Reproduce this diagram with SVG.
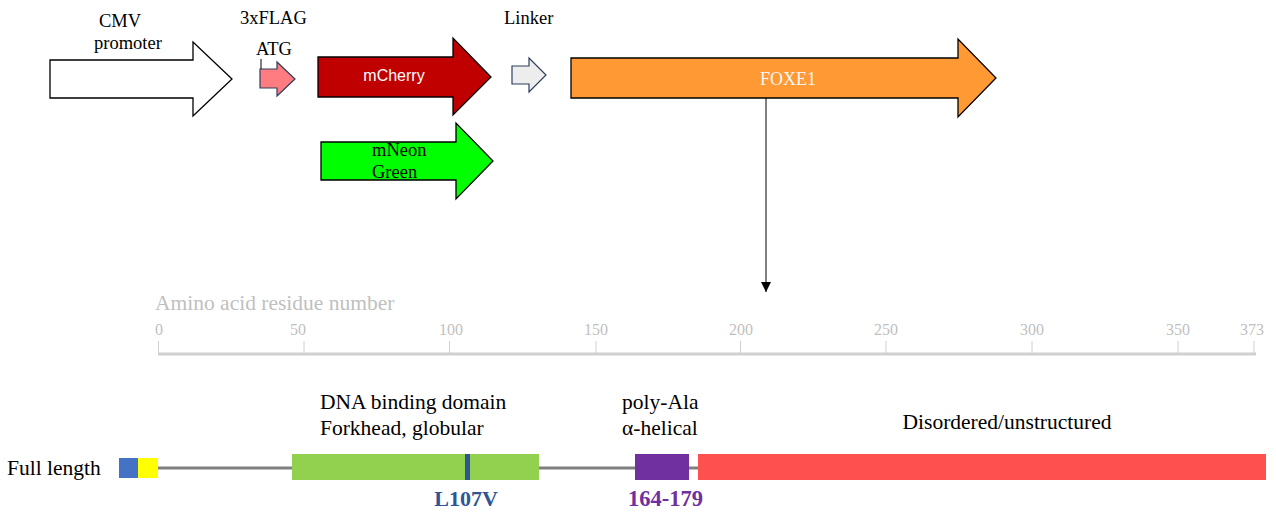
<svg xmlns="http://www.w3.org/2000/svg" width="1276" height="513" viewBox="0 0 1276 513">
<style>
.t{font-family:"Liberation Serif","Times New Roman",serif;fill:#000}
.s{font-family:"Liberation Sans",Arial,sans-serif}
.ax{font-family:"Liberation Serif","Times New Roman",serif;fill:#BFBFBF}
.tick{stroke:#D0D0D0;stroke-width:1}
</style>
<defs>
<marker id="ah" viewBox="0 0 10 10" refX="10" refY="5" markerWidth="10" markerHeight="10" markerUnits="userSpaceOnUse" orient="auto">
<path d="M0,0 L10,5 L0,10 Z" fill="#000"/>
</marker>
</defs>
<rect width="1276" height="513" fill="#fff"/>
<g id="cmv">
<path d="M50,60 H193 V42 L232,79 L193,116 V98 H50 Z" fill="#fff" stroke="#000" stroke-width="1.3"/>
<text class="t" x="99" y="27" font-size="18.5">CMV</text>
<text class="t" x="94" y="49" font-size="18.5">promoter</text>
</g>
<g id="flag">
<path d="M260,69 H277 V62 L295,79 L277,96 V88 H260 Z" fill="#FF7C80" stroke="#2F3F5F" stroke-width="1.2"/>
<line x1="261" y1="59" x2="261" y2="69" stroke="#000" stroke-width="1"/>
<text class="t" x="240" y="24" font-size="18.5">3xFLAG</text>
<text class="t" x="256" y="55" font-size="18.5">ATG</text>
</g>
<g id="mcherry">
<path d="M318,57 H453 V38 L491,77 L453,115 V97 H318 Z" fill="#C00000" stroke="#000" stroke-width="1.3"/>
<text class="s" x="394" y="81" font-size="16" fill="#fff" text-anchor="middle">mCherry</text>
</g>
<g id="mneongreen">
<path d="M321,142 H456 V123 L493,161 L456,199 V180 H321 Z" fill="#00FF00" stroke="#000" stroke-width="1.3"/>
<text class="t" x="372" y="156" font-size="18.5">mNeon</text>
<text class="t" x="372" y="178" font-size="18.5">Green</text>
</g>
<g id="linker">
<path d="M512,66 H529 V58 L546,75 L529,92 V84 H512 Z" fill="#EDEDED" stroke="#2F3F5F" stroke-width="1.2"/>
<text class="t" x="504" y="24" font-size="18.5">Linker</text>
</g>
<g id="foxe1">
<path d="M571,58 H958 V39 L996,78 L958,117 V98 H571 Z" fill="#FF9933" stroke="#000" stroke-width="1.3"/>
<text class="t" x="788" y="85" font-size="18" text-anchor="middle" style="fill:#F7F7F7">FOXE1</text>
</g>
<g id="connectors">
<line x1="766" y1="98" x2="766" y2="292" stroke="#000" stroke-width="1" marker-end="url(#ah)"/>
</g>
<g id="axis">
<text class="ax" x="155" y="310" font-size="21.5">Amino acid residue number</text>
<line x1="158" y1="354" x2="1256" y2="354" stroke="#D0D0D0" stroke-width="3"/>
<line class="tick" x1="158.5" y1="341" x2="158.5" y2="354"/>
<line class="tick" x1="304" y1="341" x2="304" y2="354"/>
<line class="tick" x1="449.5" y1="341" x2="449.5" y2="354"/>
<line class="tick" x1="596" y1="341" x2="596" y2="354"/>
<line class="tick" x1="740.5" y1="341" x2="740.5" y2="354"/>
<line class="tick" x1="886" y1="341" x2="886" y2="354"/>
<line class="tick" x1="1032" y1="341" x2="1032" y2="354"/>
<line class="tick" x1="1178" y1="341" x2="1178" y2="354"/>
<line class="tick" x1="1254" y1="341" x2="1254" y2="354"/>
<g font-size="16" text-anchor="middle">
<text class="ax" x="159" y="335">0</text>
<text class="ax" x="298" y="335">50</text>
<text class="ax" x="451" y="335">100</text>
<text class="ax" x="596" y="335">150</text>
<text class="ax" x="741" y="335">200</text>
<text class="ax" x="886" y="335">250</text>
<text class="ax" x="1032" y="335">300</text>
<text class="ax" x="1178" y="335">350</text>
<text class="ax" x="1252" y="335">373</text>
</g>
</g>
<g id="fulllength">
<text class="t" x="7" y="475" font-size="21.5">Full length</text>
<line x1="158" y1="468" x2="698" y2="468" stroke="#7F7F7F" stroke-width="3"/>
<rect x="119" y="458" width="19" height="20" fill="#4472C4"/>
<rect x="138" y="458" width="20" height="20" fill="#FFFF00"/>
</g>
<g id="dbd">
<rect x="292" y="454" width="247" height="26" fill="#92D050"/>
<rect x="465" y="454" width="5" height="26" fill="#2F5597"/>
<text class="t" x="320" y="409" font-size="21.5">DNA binding domain</text>
<text class="t" x="320" y="435" font-size="21.5">Forkhead, globular</text>
<text class="t" x="466" y="506" font-size="22" font-weight="bold" text-anchor="middle" style="fill:#2F5597">L107V</text>
</g>
<g id="polyala">
<rect x="635" y="454" width="54" height="26" fill="#7030A0"/>
<text class="t" x="622" y="409" font-size="21.5">poly-Ala</text>
<text class="t" x="622" y="435" font-size="21.5">α-helical</text>
<text class="t" x="628" y="506" font-size="22.5" font-weight="bold" style="fill:#7030A0">164-179</text>
</g>
<g id="disordered">
<rect x="698" y="454" width="568" height="26" fill="#FF5050"/>
<text class="t" x="1007" y="429" font-size="21.5" text-anchor="middle">Disordered/unstructured</text>
</g>
</svg>
